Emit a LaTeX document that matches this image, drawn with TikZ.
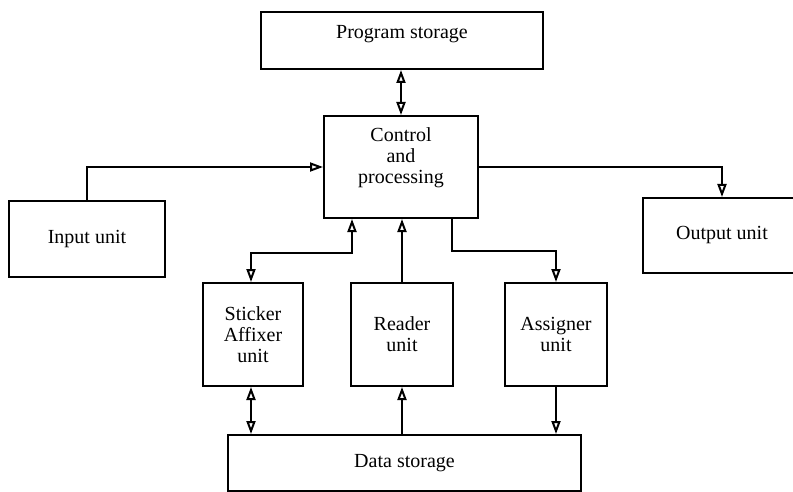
\documentclass[tikz,border=0pt]{standalone}
\usepackage{fontspec}
\setmainfont{Liberation Serif}
\usetikzlibrary{arrows.meta}
\begin{document}
\begin{tikzpicture}[x=1pt,y=-1pt,
  blk/.style={draw, line width=2pt, inner sep=0pt, align=center,
              font=\fontsize{20}{21}\selectfont},
  tip/.tip={Triangle[open, length=13pt, width=9pt]},
  link/.style={line width=2pt}]
\useasboundingbox (0,0) rectangle (793,492);

% blocks
\node[blk, minimum width=282, minimum height=57, text depth=16.5pt] (prog) at (402,40.5) {Program storage};
\node[blk, minimum width=154, minimum height=102, text depth=22pt] (ctrl) at (401,167) {Control\\and\\processing};
\node[blk, minimum width=156, minimum height=76] (inp) at (87,239) {Input unit};
\node[blk, minimum width=158, minimum height=75] (outp) at (722,235.5) {Output unit};
\node[blk, minimum width=100, minimum height=103] (stick) at (253,334.5) {Sticker\\Affixer\\unit};
\node[blk, minimum width=102, minimum height=103] (read) at (402,334.5) {Reader\\unit};
\node[blk, minimum width=102, minimum height=103] (assign) at (556,334.5) {Assigner\\unit};
\node[blk, minimum width=353, minimum height=56] (data) at (404.5,463) {Data storage};

% connectors
\draw[{tip}-{tip}, link] (prog.south -| ctrl.north) -- (ctrl.north);
\draw[-{tip}, link] (inp.north) |- (ctrl.west);
\draw[-{tip}, link] (ctrl.east) -| (outp.north);
\draw[{tip}-{tip}, link] ([xshift=-49pt]ctrl.south) -- ++(0,34) -| ([xshift=-2pt]stick.north);
\draw[-{tip}, link] (read.north) -- (read.north |- ctrl.south);
\draw[-{tip}, link] ([xshift=51pt]ctrl.south) -- ++(0,32) -| (assign.north);
\draw[{tip}-{tip}, link] ([xshift=-2pt]stick.south) -- ([xshift=-2pt]stick.south |- data.north);
\draw[-{tip}, link] (data.north -| read.south) -- (read.south);
\draw[-{tip}, link] (assign.south) -- (assign.south |- data.north);
\end{tikzpicture}
\end{document}
